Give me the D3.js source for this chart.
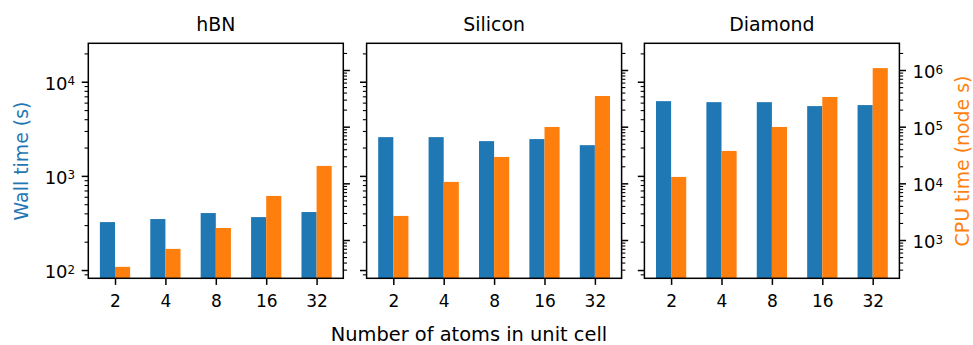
<!DOCTYPE html>
<html lang="en">
<head>
<meta charset="utf-8">
<title>Wall and CPU time</title>
<script src="https://cdn.jsdelivr.net/npm/d3@7"></script>
<style>
  body { margin: 0; background: #fff; }
  text { font-family: "DejaVu Sans", sans-serif; fill: #000; }
</style>
</head>
<body>
<svg id="chart" width="973" height="345"></svg>
<script>
// values
var atoms = ["2", "4", "8", "16", "32"];
var materials = ["hBN", "Silicon", "Diamond"];

var wallHBN = [323, 348, 403, 365, 413];
var wallSilicon = [2580, 2580, 2340, 2460, 2120];
var wallDiamond = [6220, 6070, 6070, 5510, 5650];

var cpuHBN = [336, 697, 1630, 6000, 20300];
var cpuSilicon = [2660, 10600, 29200, 98800, 348000];
var cpuDiamond = [12970, 37300, 98800, 334000, 1080000];

var wallTimes = [wallHBN, wallSilicon, wallDiamond];
var cpuTimes = [cpuHBN, cpuSilicon, cpuDiamond];

var wallDomain = [81.7, 25600];
var cpuDomain = [211, 2960000];
var wallMajor = [1e2, 1e3, 1e4];
var cpuMajor = [1e3, 1e4, 1e5, 1e6];

var blue = "#1f77b4", orange = "#ff7f0e";

function minorTicks(domain) {
  var out = [];
  for (var e = -1; e < 8; e++) {
    for (var k = 2; k < 10; k++) {
      var v = k * Math.pow(10, e);
      if (v >= domain[0] && v <= domain[1]) out.push(v);
    }
  }
  return out;
}

var svg = d3.select("#chart");
var panelLeft = [88.3, 366.6, 644.4];
var pw = 255, ph = 235, pt = 43.3;
var barW = 0.3;
var tickFont = 17, powFont = 18, labelFont = 18.9;

// "10" with the exponent raised, like matplotlib's log labels
function powLabels(sel, anchor) {
  sel.selectAll(".tick text").each(function (d) {
    var t = d3.select(this);
    t.text(null).attr("text-anchor", anchor).attr("font-size", powFont)
      .attr("font-family", "DejaVu Sans").attr("dy", "0.42em");
    t.append("tspan").text("10");
    t.append("tspan").text(Math.round(Math.log10(d)))
      .attr("font-size", powFont * 0.66).attr("dy", "-0.38em");
  });
}

materials.forEach(function (name, i) {
  var g = svg.append("g").attr("transform", "translate(" + panelLeft[i] + "," + pt + ")");
  var x = d3.scaleLinear().domain([-0.53, 4.53]).range([0, pw]);
  var yW = d3.scaleLog().domain(wallDomain).range([ph, 0]);
  var yC = d3.scaleLog().domain(cpuDomain).range([ph, 0]);

  g.selectAll("rect.wall").data(wallTimes[i]).enter().append("rect")
    .attr("class", "wall")
    .attr("x", function (d, j) { return x(j - barW); })
    .attr("width", x(barW) - x(0))
    .attr("y", function (d) { return yW(d); })
    .attr("height", function (d) { return ph - yW(d); })
    .attr("fill", blue);

  g.selectAll("rect.cpu").data(cpuTimes[i]).enter().append("rect")
    .attr("class", "cpu")
    .attr("x", function (d, j) { return x(j); })
    .attr("width", x(barW) - x(0))
    .attr("y", function (d) { return yC(d); })
    .attr("height", function (d) { return ph - yC(d); })
    .attr("fill", orange);

  // left (wall) ticks
  var lMinor = g.append("g").call(d3.axisLeft(yW).tickValues(minorTicks(wallDomain))
    .tickSize(3.75).tickFormat(""));
  var lMajor = g.append("g").call(d3.axisLeft(yW).tickValues(wallMajor)
    .tickSize(6.6).tickPadding(6.6));
  if (i === 0) powLabels(lMajor, "end"); else lMajor.selectAll(".tick text").remove();

  // right (cpu) ticks
  var rMinor = g.append("g").attr("transform", "translate(" + pw + ",0)")
    .call(d3.axisRight(yC).tickValues(minorTicks(cpuDomain)).tickSize(3.75).tickFormat(""));
  var rMajor = g.append("g").attr("transform", "translate(" + pw + ",0)")
    .call(d3.axisRight(yC).tickValues(cpuMajor).tickSize(6.6).tickPadding(6.6));
  if (i === 2) powLabels(rMajor, "start"); else rMajor.selectAll(".tick text").remove();

  // bottom ticks
  var bx = g.append("g").attr("transform", "translate(0," + ph + ")")
    .call(d3.axisBottom(x).tickValues([0, 1, 2, 3, 4])
      .tickFormat(function (j) { return atoms[j]; }).tickSize(6.6));
  bx.selectAll(".tick text").attr("font-size", tickFont).attr("font-family", "DejaVu Sans")
    .attr("y", 28.8).attr("dy", 0);

  [lMinor, rMinor].forEach(function (a) { a.selectAll(".tick line").attr("stroke-width", 1.1); });
  [lMajor, rMajor, bx].forEach(function (a) { a.selectAll(".tick line").attr("stroke-width", 1.5); });
  [lMinor, lMajor, rMinor, rMajor, bx].forEach(function (a) { a.select(".domain").remove(); });

  g.append("rect").attr("width", pw).attr("height", ph)
    .attr("fill", "none").attr("stroke", "#000").attr("stroke-width", 1.5);

  g.append("text").attr("x", pw / 2).attr("y", -12.5)
    .attr("text-anchor", "middle").attr("font-size", labelFont).text(name);
});

svg.append("text").attr("x", 469).attr("y", 340.5)
  .attr("text-anchor", "middle").attr("font-size", 19.4)
  .text("Number of atoms in unit cell");

svg.append("text").attr("transform", "translate(27.5,161) rotate(-90)")
  .attr("text-anchor", "middle").attr("font-size", labelFont)
  .style("fill", blue).text("Wall time (s)");

svg.append("text").attr("transform", "translate(968.5,161) rotate(-90)")
  .attr("text-anchor", "middle").attr("font-size", labelFont)
  .style("fill", orange).text("CPU time (node s)");
</script>
</body>
</html>
